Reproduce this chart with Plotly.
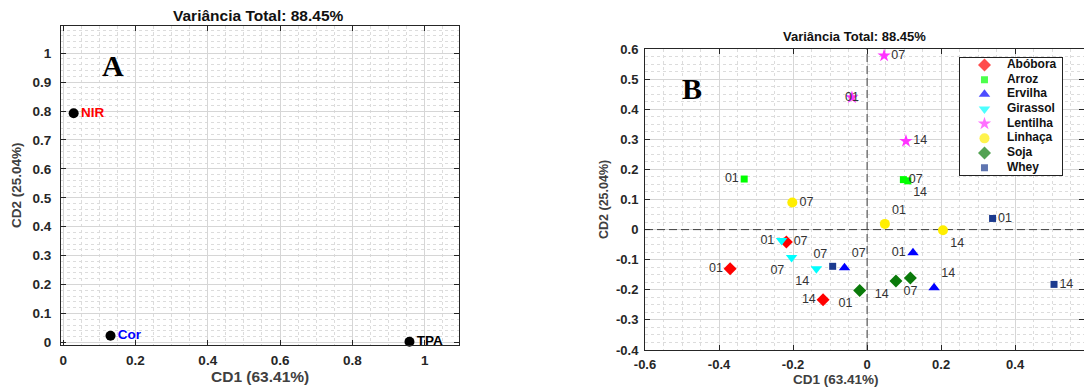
import plotly.graph_objects as go

# ---------------- Data ----------------
# Panel A: variable loadings
varsA = ["NIR", "Cor", "TPA"]
cd1A = [0.029, 0.131, 0.958]
cd2A = [0.792, 0.023, 0.002]
colorsA = ["#ff0000", "#0000ff", "#000000"]

# Panel B: sample scores (days 01, 07, 14 per product)
products = ["Abóbora", "Arroz", "Ervilha", "Girassol", "Lentilha", "Linhaça", "Soja", "Whey"]
days = ["01", "07", "14"]
cd1B = {
    "Abóbora": [-0.370, -0.218, -0.119],
    "Arroz": [-0.332, 0.098, 0.110],
    "Ervilha": [0.124, -0.061, 0.181],
    "Girassol": [-0.231, -0.204, -0.137],
    "Lentilha": [-0.041, 0.046, 0.105],
    "Linhaça": [0.048, -0.202, 0.205],
    "Soja": [-0.020, 0.117, 0.078],
    "Whey": [0.339, -0.093, 0.505],
}
cd2B = {
    "Abóbora": [-0.130, -0.041, -0.233],
    "Arroz": [0.168, 0.166, 0.162],
    "Ervilha": [-0.077, -0.127, -0.193],
    "Girassol": [-0.036, -0.093, -0.130],
    "Lentilha": [0.439, 0.578, 0.294],
    "Linhaça": [0.019, 0.090, -0.002],
    "Soja": [-0.202, -0.161, -0.171],
    "Whey": [0.037, -0.122, -0.182],
}

title_text = "Variância Total: 88.45%"
xlab = "CD1 (63.41%)"
ylab = "CD2 (25.04%)"

xticksA = [0, 0.2, 0.4, 0.6, 0.8, 1]
yticksA = [0, 0.1, 0.2, 0.3, 0.4, 0.5, 0.6, 0.7, 0.8, 0.9, 1]
xticksB = [-0.6, -0.4, -0.2, 0, 0.2, 0.4, 0.6]
yticksB = [-0.4, -0.3, -0.2, -0.1, 0, 0.1, 0.2, 0.3, 0.4, 0.5, 0.6]
xrangeB = [-0.6, 0.586]
yrangeB = [-0.4, 0.6]

# ---------------- Styles ----------------
FONT = "Arial, Liberation Sans, sans-serif"
SERIF = "Times New Roman, Liberation Serif, serif"
styleB = {
    "Abóbora": dict(symbol="diamond", color="#ff0000", size=10),
    "Arroz": dict(symbol="square", color="#00ff00", size=7),
    "Ervilha": dict(symbol="triangle-up", color="#0000ff", size=10),
    "Girassol": dict(symbol="triangle-down", color="#00ffff", size=10),
    "Lentilha": dict(symbol="star", color="#ff33ff", size=10),
    "Linhaça": dict(symbol="circle", color="#ffee00", size=10),
    "Soja": dict(symbol="diamond", color="#0a7a0a", size=10),
    "Whey": dict(symbol="square", color="#1b3a8f", size=7),
}
labelpos = {
    "Abóbora": ["middle left", "middle right", "middle left"],
    "Arroz": ["middle left", "middle right", "bottom right"],
    "Ervilha": ["middle left", "top right", "top right"],
    "Girassol": ["middle left", "bottom left", "bottom left"],
    "Lentilha": ["middle center", "middle right", "middle right"],
    "Linhaça": ["top right", "middle right", "bottom right"],
    "Soja": ["bottom left", "bottom center", "bottom left"],
    "Whey": ["middle right", "top left", "middle right"],
}

def fmt(v):
    s = ("%g" % v)
    return "0" if s in ("-0", "0") else s

fig = go.Figure()

# Panel A
fig.add_trace(go.Scatter(
    x=cd1A, y=cd2A, mode="markers+text", xaxis="x", yaxis="y",
    marker=dict(color="black", size=10),
    text=[f"<b>{v}</b>" for v in varsA], textposition="middle right",
    textfont=dict(family=FONT, size=13.5, color=colorsA),
    showlegend=False, cliponaxis=False,
))

# Panel B dashed reference lines at zero (drawn first, beneath markers)
dash_line = dict(color="#404040", width=1, dash="8px,4px")
fig.add_trace(go.Scatter(x=[0, 0], y=yrangeB, mode="lines", xaxis="x2", yaxis="y2",
                         line=dash_line, showlegend=False, hoverinfo="skip"))
fig.add_trace(go.Scatter(x=xrangeB, y=[0, 0], mode="lines", xaxis="x2", yaxis="y2",
                         line=dash_line, showlegend=False, hoverinfo="skip"))

# Panel B
for p in products:
    st = styleB[p]
    fig.add_trace(go.Scatter(
        x=cd1B[p], y=cd2B[p], mode="markers+text", xaxis="x2", yaxis="y2",
        marker=dict(symbol=st["symbol"], color=st["color"], size=st["size"],
                    line=dict(width=0)),
        text=days, textposition=labelpos[p],
        textfont=dict(family=FONT, size=12.5, color="#333333"),
        name=p, showlegend=False, cliponaxis=False,
    ))

# Legend drawn on inset axes
fig.add_trace(go.Scatter(
    x=[0.24] * len(products), y=products, mode="markers", xaxis="x3", yaxis="y3",
    marker=dict(symbol=[styleB[p]["symbol"] for p in products],
                color=[styleB[p]["color"] for p in products],
                size=[styleB[p]["size"] for p in products], line=dict(width=0)),
    showlegend=False, hoverinfo="skip",
))
fig.add_trace(go.Scatter(
    x=[0.46] * len(products), y=products, mode="text", xaxis="x3", yaxis="y3",
    text=[f"<b>{p}</b>" for p in products], textposition="middle right",
    textfont=dict(family=FONT, size=12, color="#111111"),
    showlegend=False, hoverinfo="skip", cliponaxis=False,
))

grid = "#d6d6d6"
minorgrid = "#dcdcdc"

def axis_common(fs, standoff, **kw):
    d = dict(showline=True, linecolor="#262626", linewidth=1, mirror="ticks",
             ticks="inside", ticklen=5, tickcolor="#262626",
             showgrid=True, gridcolor=grid, gridwidth=1, zeroline=False,
             ticklabelstandoff=standoff,
             tickfont=dict(family=FONT, size=fs, color="#262626"), automargin=False)
    d.update(kw)
    return d

fig.update_layout(
    width=1084, height=389, margin=dict(l=0, r=0, t=0, b=0, autoexpand=False),
    paper_bgcolor="white", plot_bgcolor="white",
    xaxis=axis_common(13.5, 3, domain=[61 / 1084, 459 / 1084], range=[-0.006, 1.095],
                      tickvals=xticksA, ticktext=[f"<b>{fmt(v)}</b>" for v in xticksA],
                      anchor="y",
                      minor=dict(dtick=0.05, tick0=0, showgrid=True, gridcolor=minorgrid,
                                 griddash="dot", ticks="")),
    yaxis=axis_common(13.5, 6, domain=[1 - 345 / 389, 1 - 25.7 / 389], range=[-0.009, 1.095],
                      tickvals=yticksA, ticktext=[f"<b>{fmt(v)}</b>" for v in yticksA],
                      anchor="x",
                      minor=dict(dtick=0.02, tick0=0, showgrid=True, gridcolor=minorgrid,
                                 griddash="dot", ticks="")),
    xaxis2=axis_common(13, 2, domain=[645 / 1084, 1.0], range=xrangeB,
                       tickvals=xticksB, ticktext=[f"<b>{fmt(v)}</b>" for v in xticksB],
                       anchor="y2",
                       minor=dict(dtick=0.05, tick0=0, showgrid=True, gridcolor=minorgrid,
                                  griddash="dot", ticks="")),
    yaxis2=axis_common(13, 3, domain=[1 - 350 / 389, 1 - 49 / 389], range=yrangeB,
                       tickvals=yticksB, ticktext=[f"<b>{fmt(v)}</b>" for v in yticksB],
                       anchor="x2",
                       minor=dict(dtick=0.025, tick0=0, showgrid=True, gridcolor=minorgrid,
                                  griddash="dot", ticks="")),
    xaxis3=dict(domain=[960 / 1084, 1062 / 1084], range=[0, 1], anchor="y3",
                showgrid=False, zeroline=False, showticklabels=False, ticks="",
                showline=True, mirror=True, linecolor="#222222", linewidth=1),
    yaxis3=dict(domain=[1 - 175 / 389, 1 - 57.7 / 389], anchor="x3",
                type="category", categoryorder="array", categoryarray=products,
                range=[len(products) - 0.5, -0.5],
                showgrid=False, zeroline=False, showticklabels=False, ticks="",
                showline=True, mirror=True, linecolor="#222222", linewidth=1),
)

def pann(text, px, py, size, color, angle=0, family=FONT):
    return dict(text=text, x=px / 1084, y=1 - py / 389, xref="paper", yref="paper",
                xanchor="center", yanchor="middle", showarrow=False, textangle=angle,
                font=dict(family=family, size=size, color=color))

ann = [
    pann(f"<b>{title_text}</b>", 258, 15, 15.5, "#111111"),
    pann(f"<b>{title_text}</b>", 854, 37, 13, "#111111"),
    pann(f"<b>{xlab}</b>", 260, 376, 15.5, "#404040"),
    pann(f"<b>{ylab}</b>", 17, 185, 13.5, "#404040", angle=-90),
    pann(f"<b>{xlab}</b>", 836, 379, 13.5, "#404040"),
    pann(f"<b>{ylab}</b>", 604, 200, 12.5, "#404040", angle=-90),
    # panel letters
    dict(text="<b>A</b>", x=0.137, y=0.957, xref="x", yref="y", showarrow=False,
         xanchor="center", yanchor="middle", font=dict(family=SERIF, size=30, color="black")),
    dict(text="<b>B</b>", x=-0.474, y=0.47, xref="x2", yref="y2", showarrow=False,
         xanchor="center", yanchor="middle", font=dict(family=SERIF, size=30, color="black")),
]
fig.update_layout(annotations=ann)

fig.write_html("out.html")
